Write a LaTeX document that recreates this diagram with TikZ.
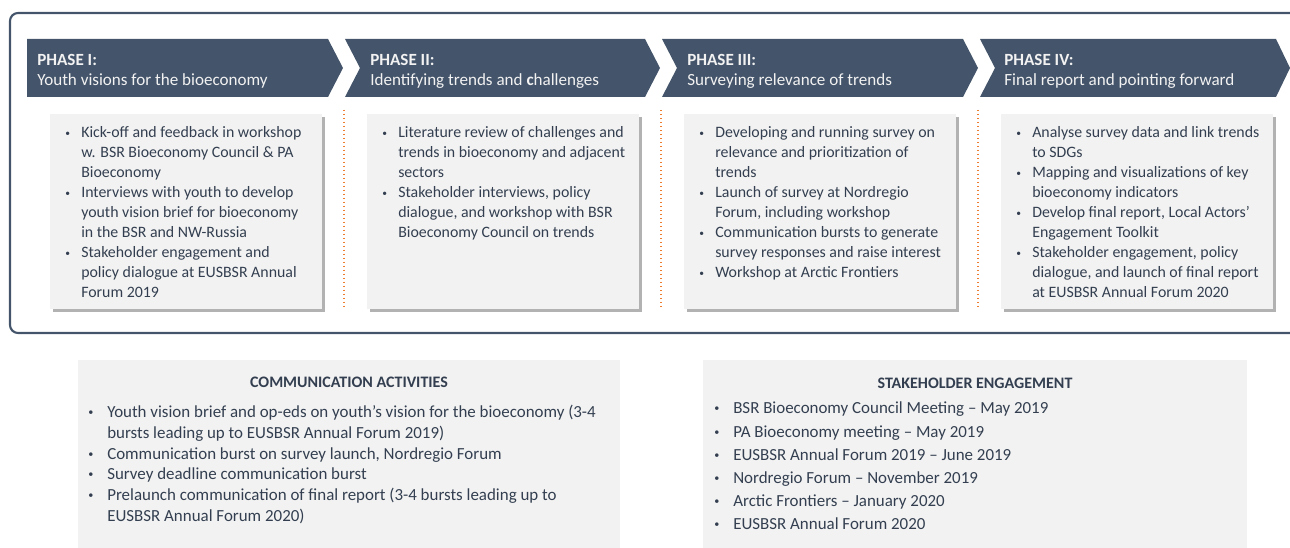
\documentclass[tikz,border=0pt]{standalone}
\usepackage{fontspec}
\setmainfont{Carlito}
\usetikzlibrary{shadows,positioning}
\definecolor{phaseblue}{HTML}{44546A}
\definecolor{boxgray}{HTML}{F2F2F2}
\definecolor{txtdark}{HTML}{333F50}
\definecolor{seporange}{HTML}{ED7D31}
\newlength{\blwd}
\newcommand{\bl}{\makebox[\blwd][l]{\raisebox{0.25ex}{\scalebox{0.6}{\textbullet}}}}
\tikzset{
	frameline/.style={draw=phaseblue, line width=1.6pt, rounded corners=6pt},
	phasebar/.style={fill=phaseblue},
	phasehead/.style={anchor=base west, inner sep=0, text=boxgray, font=\fontsize{12.8}{15}\selectfont\bfseries},
	phasesub/.style={anchor=base west, inner sep=0, text=boxgray, font=\fontsize{12.8}{15}\selectfont},
	taskbox/.style={anchor=north west, inner sep=0, minimum width=204pt, minimum height=146.25pt, fill=boxgray,
		drop shadow={shadow xshift=2pt, shadow yshift=-2pt, fill=black, opacity=0.3}},
	tasklist/.style={anchor=base west, inner sep=0, text=txtdark, font=\fontsize{11.9}{15}\selectfont\setlength{\blwd}{12pt}},
	phasesep/.style={draw=seporange, line width=1pt, dotted},
	infobox/.style={anchor=north west, inner sep=0, minimum height=141pt, fill=boxgray},
	infotitle/.style={inner sep=0, text=txtdark, font=\fontsize{12}{15}\selectfont\bfseries},
	infolist/.style={anchor=base west, inner sep=0, text=txtdark, font=\fontsize{12.7}{15.5}\selectfont\setlength{\blwd}{14.25pt}}
}
\begin{document}
\begin{tikzpicture}[x=0.75pt,y=-0.75pt]
	\useasboundingbox (0,0) rectangle (1290,548);
	\draw[frameline] (1290,13) -- (10,13) -- (10,333) -- (1290,333);
	%
	\fill[phasebar] (27,39) -- (328,39) -- (343,68) -- (328,97) -- (27,97) -- cycle;
	\fill[phasebar] (345,39) -- (645,39) -- (660,68) -- (645,97) -- (345,97) -- (360,68) -- cycle;
	\fill[phasebar] (662,39) -- (963,39) -- (978,68) -- (963,97) -- (662,97) -- (677,68) -- cycle;
	\fill[phasebar] (980,39) -- (1276,39) -- (1290,68) -- (1276,97) -- (980,97) -- (995,68) -- cycle;
	\node[phasehead] (h1) at (37,66) {PHASE I:};
	\node[phasesub] (s1) at (37,86) {Youth visions for the bioeconomy};
	\node[phasehead] (h2) at (370,66) {PHASE II:};
	\node[phasesub] (s2) at (370,86) {Identifying trends and \textbf{c}hallenges};
	\node[phasehead] (h3) at (687,66) {PHASE III:};
	\node[phasesub] (s3) at (687,86) {Surveying relevance of trends};
	\node[phasehead] (h4) at (1004,66) {PHASE IV:};
	\node[phasesub] (s4) at (1004,86) {Final report and pointing forward};
	%
	\draw[phasesep] (344,110) -- (344,308);
	\draw[phasesep] (661,110) -- (661,308);
	\draw[phasesep] (978,110) -- (978,308);
	%
	\node[taskbox] (b1) at (50,114) {};
	\node[tasklist] (l1) at ([shift={(15,24)}]b1.north west) {\begin{tabular}[t]{@{}l@{}l@{}}
		\bl & Kick-off and feedback in workshop\\
		& w. BSR Bioeconomy Council \& PA\\
		& Bioeconomy\\
		\bl & Interviews with youth to develop\\
		& youth vision brief for bioeconomy\\
		& in the BSR and NW-Russia\\
		\bl & Stakeholder engagement and\\
		& policy dialogue at EUSBSR Annual\\
		& Forum 2019
	\end{tabular}};
	\node[taskbox] (b2) at (367,114) {};
	\node[tasklist] (l2) at ([shift={(15,24)}]b2.north west) {\begin{tabular}[t]{@{}l@{}l@{}}
		\bl & Literature review of challenges and\\
		& trends in bioeconomy and adjacent\\
		& sectors\\
		\bl & Stakeholder interviews, policy\\
		& dialogue, and workshop with BSR\\
		& Bioeconomy Council on trends
	\end{tabular}};
	\node[taskbox] (b3) at (684,114) {};
	\node[tasklist] (l3) at ([shift={(15,24)}]b3.north west) {\begin{tabular}[t]{@{}l@{}l@{}}
		\bl & Developing and running survey on\\
		& relevance and prioritization of\\
		& trends\\
		\bl & Launch of survey at Nordregio\\
		& Forum, including workshop\\
		\bl & Communication bursts to generate\\
		& survey responses and raise interest\\
		\bl & Workshop at Arctic Frontiers
	\end{tabular}};
	\node[taskbox] (b4) at (1001,114) {};
	\node[tasklist] (l4) at ([shift={(15,24)}]b4.north west) {\begin{tabular}[t]{@{}l@{}l@{}}
		\bl & Analyse survey data and link trends\\
		& to SDGs\\
		\bl & Mapping and visualizations of key\\
		& bioeconomy indicators\\
		\bl & Develop final report, Local Actors’\\
		& Engagement Toolkit\\
		\bl & Stakeholder engagement, policy\\
		& dialogue, and launch of final report\\
		& at EUSBSR Annual Forum 2020
	\end{tabular}};
	%
	\node[infobox, minimum width=406.5pt] (comm) at (78,360) {};
	\node[infotitle] (commt) at (349,382) {COMMUNICATION ACTIVITIES};
	\node[infolist] (comml) at (88,418) {\begin{tabular}[t]{@{}l@{}l@{}}
		\bl & Youth vision brief and op-eds on youth’s vision for the bioeconomy (3-4\\
		& bursts leading up to EUSBSR Annual Forum 2019)\\
		\bl & Communication burst on survey launch, Nordregio Forum\\
		\bl & Survey deadline communication burst\\
		\bl & Prelaunch communication of final report (3-4 bursts leading up to\\
		& EUSBSR Annual Forum 2020)
	\end{tabular}};
	\node[infobox, minimum width=408pt] (stake) at (703,360) {};
	\node[infotitle] (staket) at (975,383) {STAKEHOLDER ENGAGEMENT};
	\node[infolist, font=\fontsize{12.7}{17.4}\selectfont\setlength{\blwd}{14.25pt}] (stakel) at (714,414) {\begin{tabular}[t]{@{}l@{}l@{}}
		\bl & BSR Bioeconomy Council Meeting – May 2019\\
		\bl & PA Bioeconomy meeting – May 2019\\
		\bl & EUSBSR Annual Forum 2019 – June 2019\\
		\bl & Nordregio Forum – November 2019\\
		\bl & Arctic Frontiers – January 2020\\
		\bl & EUSBSR Annual Forum 2020
	\end{tabular}};
\end{tikzpicture}
\end{document}
